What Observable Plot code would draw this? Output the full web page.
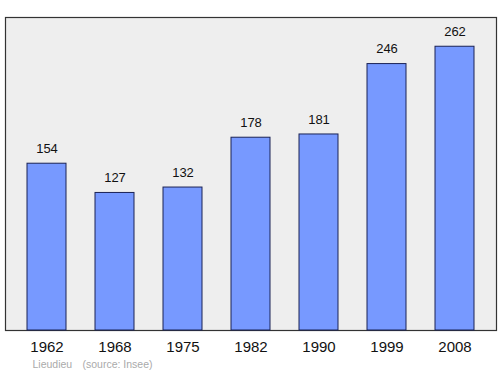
<!DOCTYPE html>
<html>
<head>
<meta charset="utf-8">
<script src="https://cdn.jsdelivr.net/npm/d3@7"></script>
<script src="https://cdn.jsdelivr.net/npm/@observablehq/plot@0.6"></script>
<style>
  html, body { margin: 0; padding: 0; background: #fff; }
  svg { display: block; }
</style>
</head>
<body>
<div id="chart"></div>
<script>
const years = ["1962", "1968", "1975", "1982", "1990", "1999", "2008"];
const population = [154, 127, 132, 178, 181, 246, 262];
const place = "Lieudieu";
const source = "(source: Insee)";

const data = years.map((y, i) => ({year: y, value: population[i]}));

const chart = Plot.plot({
  width: 500,
  height: 374,
  marginTop: 17,
  marginBottom: 44,
  marginLeft: 5,
  marginRight: 4,
  style: {fontFamily: "'Liberation Sans', Arial, sans-serif", background: "#fff"},
  x: {domain: years, paddingInner: 0.43, paddingOuter: 0.31, label: null},
  y: {domain: [0, 289], axis: null},
  marks: [
    Plot.frame({fill: "#eeeeee", stroke: "#333", strokeWidth: 1.2}),
    Plot.barY(data, {x: "year", y: "value", fill: "#7799ff", stroke: "#1a2255", strokeWidth: 1}),
    Plot.text(data, {x: "year", y: "value", text: d => String(d.value), dy: -15, fontSize: 13, fill: "#111"}),
    Plot.axisX({tickSize: 0, tickPadding: 11, fontSize: 15, label: null, fill: "#111"}),
    Plot.text([place], {frameAnchor: "bottom-left", dx: 27, dy: 37, textAnchor: "start", fontSize: 10.5, fill: "#aaaaaa"}),
    Plot.text([source], {frameAnchor: "bottom-left", dx: 77, dy: 37, textAnchor: "start", fontSize: 10.5, fill: "#aaaaaa"})
  ]
});
document.getElementById("chart").appendChild(chart);
</script>
</body>
</html>
